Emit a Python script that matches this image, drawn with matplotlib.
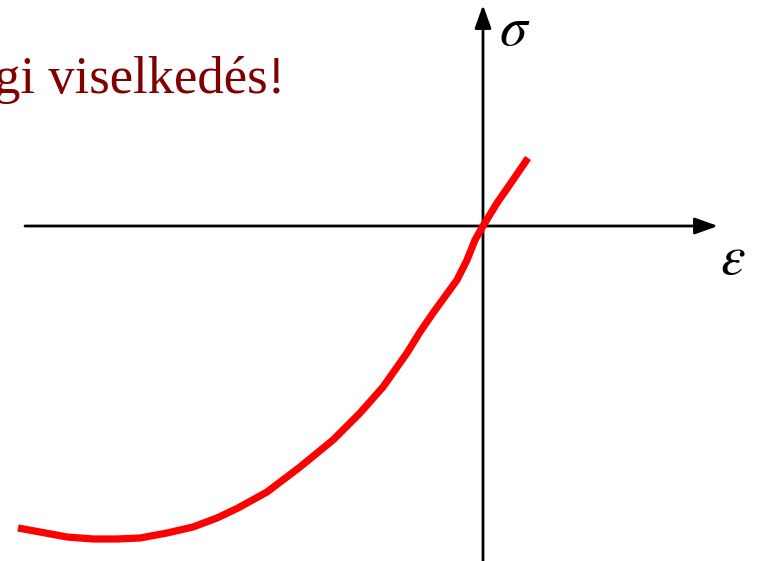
import numpy as np
import matplotlib.pyplot as plt

plt.rcParams['mathtext.fontset'] = 'stix'

# strain / stress samples along the curve (arbitrary units, origin at axis crossing)
eps = [-465, -443, -416, -390, -366, -343, -316, -290, -266, -245, -216, -183,
       -150, -123, -100, -76, -63, -50, -26, -16, -8, 0, 14, 30, 45]
sig = [-302, -306, -311, -313, -313, -312, -307, -301, -292, -282, -266, -241,
       -214, -187, -161, -127, -106, -87, -54, -34, -14, 0, 23, 46, 68]

fig = plt.figure(figsize=(7.6, 5.61), dpi=100)
ax = fig.add_axes([0, 0, 1, 1])
ax.set_xlim(-483, 277)
ax.set_ylim(-335, 226)
ax.axis('off')

# coordinate axes with arrow heads
arrow = dict(arrowstyle='-|>,head_length=0.7,head_width=0.25', lw=2, color='black',
             shrinkA=0, shrinkB=0, mutation_scale=20)
ax.annotate('', xy=(235, 0), xytext=(-458, 0), arrowprops=arrow)
ax.annotate('', xy=(0, 221), xytext=(0, -340), arrowprops=arrow)

ax.plot(eps, sig, color='red', lw=5.2, solid_capstyle='butt',
        solid_joinstyle='round', zorder=3)

ax.text(16, 196, r'$\sigma$', fontsize=40, ha='left', va='center')
ax.text(237, -33, r'$\varepsilon$', fontsize=40, ha='left', va='center')

ax.text(-198, 133, 'gi viselkedés!', fontsize=38, color='#800000',
        family='Liberation Serif', ha='right', va='baseline')

fig.savefig('out.png', dpi=100)
